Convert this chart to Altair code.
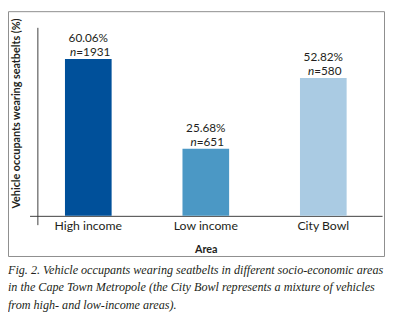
import altair as alt
import pandas as pd

areas = ["High income", "Low income", "City Bowl"]
pct = [60.06, 25.68, 52.82]
counts = [1931, 651, 580]
colors = ["#00509a", "#4b98c5", "#aacbe3"]

caption = [
    "Fig. 2. Vehicle occupants wearing seatbelts in different socio-economic areas",
    "in the Cape Town Metropole (the City Bowl represents a mixture of vehicles",
    "from high- and low-income areas).",
]

df = pd.DataFrame({"area": areas, "pct": pct, "n": counts})

FONT = "Lato"
TXT = "#231f20"
AX = "#3c3c3c"

base = alt.Chart(df).transform_calculate(
    pct_label="format(datum.pct, '.2f') + '%'",
    eq_label="'=' + datum.n",
    noff="23.8 + 6 - (12.5 + 6*length(toString(datum.n)))/2",
).encode(
    x=alt.X(
        "area:N",
        sort=areas,
        scale=alt.Scale(range=[22, 382], paddingInner=0.603, paddingOuter=0.3015),
        axis=alt.Axis(
            title="Area",
            orient="bottom",
            offset=-41,
            ticks=False,
            tickSize=0,
            labelPadding=4,
            labelAngle=0,
            labelFont=FONT,
            labelFontSize=12.5,
            labelColor=TXT,
            titleFont=FONT,
            titleFontSize=11,
            titleFontWeight="bold",
            titleColor=TXT,
            titlePadding=12,
            domainColor=AX,
            domainWidth=1,
        ),
    )
)

bars = base.mark_bar().encode(
    y=alt.Y(
        "pct:Q",
        scale=alt.Scale(domain=[-3.4, 72.2], range=[218, 16.5], nice=False, zero=False),
        axis=alt.Axis(
            title="Vehicle occupants wearing seatbelts (%)",
            orient="left",
            offset=-30,
            ticks=False,
            labels=False,
            grid=False,
            domainColor=AX,
            domainWidth=1,
            titleFont=FONT,
            titleFontSize=11,
            titleFontWeight="bold",
            titleColor=TXT,
            titleAngle=270,
            titleX=-21,
            titleY=104,
            titleAlign="center",
            titleBaseline="middle",
        ),
    ),
    color=alt.Color("area:N", sort=areas, scale=alt.Scale(domain=areas, range=colors), legend=None),
)

pct_text = base.mark_text(dy=-21, baseline="middle", font=FONT, fontSize=12, color=TXT).encode(
    y="pct:Q", text="pct_label:N"
)
n_text = base.mark_text(
    dy=-7, baseline="middle", align="right", font=FONT, fontSize=12, fontStyle="italic", color=TXT
).encode(y="pct:Q", text=alt.value("n"), xOffset=alt.XOffset("noff:Q", scale=None))
eq_text = base.mark_text(
    dy=-7, baseline="middle", align="left", font=FONT, fontSize=12, color=TXT
).encode(y="pct:Q", text="eq_label:N", xOffset=alt.XOffset("noff:Q", scale=None))

chart = (
    alt.layer(bars, pct_text, n_text, eq_text)
    .properties(
        width=384,
        height=250,
        padding={"left": 0, "top": 0, "right": 1, "bottom": 57},
        autosize=alt.AutoSizeParams(type="none"),
        title=alt.TitleParams(
            text=caption,
            orient="bottom",
            anchor="start",
            font="Liberation Serif",
            fontStyle="italic",
            fontWeight="normal",
            fontSize=12.4,
            lineHeight=18,
            offset=8,
            color=TXT,
        ),
    )
    .configure_view(stroke="#8c8c8c", strokeWidth=1)
)

chart.save("out.html", embed_options={"renderer": "svg", "actions": False})
